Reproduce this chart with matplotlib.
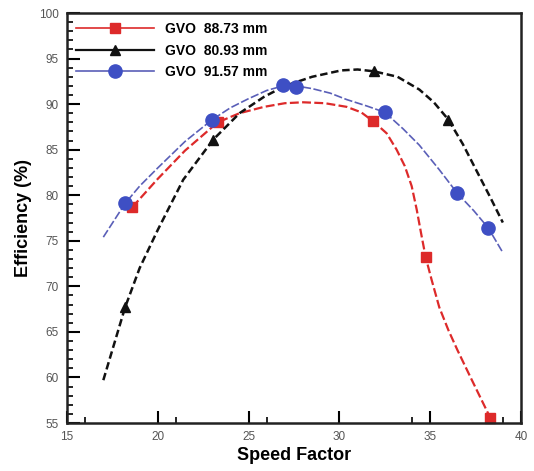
import matplotlib
matplotlib.use("Agg")
import matplotlib.pyplot as plt
from matplotlib.lines import Line2D
from matplotlib.ticker import MultipleLocator, FixedLocator

plt.rcParams['font.family'] = ['Liberation Sans', 'DejaVu Sans']

# ---- data ----
labels = ["GVO  88.73 mm", "GVO  80.93 mm", "GVO  91.57 mm"]

# measured points (markers)
red_x = [18.6, 23.3, 31.87, 34.75, 38.3]
red_y = [78.7, 88.0, 88.1, 73.2, 55.6]
black_x = [18.2, 23.05, 31.9, 36.0]
black_y = [67.7, 86.1, 93.6, 88.3]
blue_x = [18.2, 23.0, 26.9, 27.6, 32.5, 36.5, 38.2]
blue_y = [79.1, 88.3, 92.1, 91.9, 89.1, 80.2, 76.4]

# fitted curves
red_cx = [18.6, 20.0, 21.5, 23.3, 24.5, 25.85, 27.0, 28.0, 29.2, 30.4, 31.2, 31.87,
          32.6, 33.15, 33.6, 33.98, 34.26, 34.5, 34.75, 35.08, 35.5, 36.0, 36.5, 37.2, 38.3]
red_cy = [78.7, 81.8, 84.9, 88.0, 89.0, 89.7, 90.1, 90.2, 90.1, 89.7, 89.1, 88.1,
          86.8, 85.0, 83.2, 81.0, 78.4, 75.8, 73.2, 70.7, 67.7, 65.2, 63.0, 60.1, 55.6]
black_cx = [17.0, 18.2, 19.0, 20.0, 21.4, 23.05, 24.5, 25.85, 27.0, 28.5, 30.1, 31.0,
            31.9, 33.2, 34.4, 35.2, 36.0, 36.8, 37.6, 38.3, 39.0]
black_cy = [59.7, 67.7, 72.0, 76.2, 81.7, 86.1, 89.0, 90.8, 92.0, 93.0, 93.7, 93.8,
            93.6, 93.0, 91.6, 90.2, 88.3, 85.6, 82.5, 79.8, 77.0]
blue_cx = [17.0, 18.2, 19.0, 20.0, 21.5, 23.0, 24.0, 25.0, 26.0, 26.9, 27.6, 28.5,
           29.5, 30.4, 31.5, 32.5, 33.5, 34.4, 35.5, 36.5, 37.4, 38.2, 39.0]
blue_cy = [75.4, 79.1, 81.0, 83.0, 85.9, 88.3, 89.6, 90.6, 91.5, 92.0, 92.0, 91.7,
           91.2, 90.5, 89.8, 89.1, 87.3, 85.5, 82.8, 80.2, 78.3, 76.4, 73.7]

x_ticks = [15, 20, 25, 30, 35, 40]
x_minor = [16, 21, 26, 34, 39]
y_ticks = [55, 60, 65, 70, 75, 80, 85, 90, 95, 100]

RED = "#dd2a2a"
BLACK = "#111111"
BLUE = "#3e4fc4"
BLUE_LINE = "#5a5fb8"

fig = plt.figure(figsize=(5.34, 4.71), dpi=100)
ax = fig.add_axes([67/534, 1-423/471, (521-67)/534, (423-13)/471])

ax.plot(red_cx, red_cy, color=RED, lw=1.6, ls=(0, (4, 1.5)))
ax.plot(red_x, red_y, ls='none', marker='s', ms=7, color=RED, clip_on=False)
ax.plot(black_cx, black_cy, color=BLACK, lw=1.8, ls=(0, (3, 1.5)))
ax.plot(black_x, black_y, ls='none', marker='^', ms=6.5, color=BLACK, clip_on=False)
ax.plot(blue_cx, blue_cy, color=BLUE_LINE, lw=1.2, ls=(0, (5, 1.5)))
ax.plot(blue_x, blue_y, ls='none', marker='o', ms=9.5, color=BLUE, clip_on=False)

ax.set_xlim(15, 40)
ax.set_ylim(55, 100)
ax.set_xticks(x_ticks)
ax.set_yticks(y_ticks)
ax.xaxis.set_minor_locator(FixedLocator(x_minor))
ax.yaxis.set_minor_locator(MultipleLocator(1))
ax.tick_params(which='major', direction='in', length=9, width=1.5, labelsize=8.5,
               labelcolor='#555555', pad=6)
ax.tick_params(which='minor', direction='in', length=4.5, width=1.2)
for s in ax.spines.values():
    s.set_linewidth(1.8)
    s.set_color('#222222')

ax.set_xlabel("Speed Factor", fontsize=13, fontweight='bold', labelpad=3)
ax.set_ylabel("Efficiency (%)", fontsize=13, fontweight='bold', labelpad=5)

handles = [
    Line2D([], [], color=RED, lw=1.2, marker='s', ms=7),
    Line2D([], [], color=BLACK, lw=1.6, marker='^', ms=6.5),
    Line2D([], [], color=BLUE_LINE, lw=1.2, marker='o', ms=9.5, mfc=BLUE, mec=BLUE),
]
leg = ax.legend(handles, labels, loc='upper left', frameon=False,
                handlelength=5.6, handletextpad=0.8, labelspacing=0.55,
                borderaxespad=0.2, borderpad=0.45,
                prop={'weight': 'bold', 'size': 10})

fig.savefig("out.png", dpi=100)
